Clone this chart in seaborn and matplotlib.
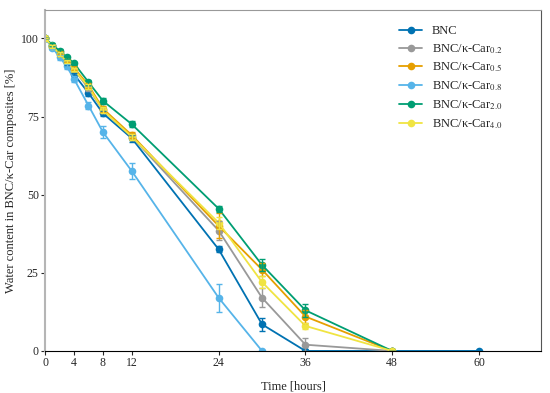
import numpy as np
import pandas as pd
import seaborn as sns
import matplotlib.pyplot as plt

# time points (hours)
hours = [0, 1, 2, 3, 4, 6, 8, 12, 24, 30, 36, 48, 60]

# water content [%] for each sample, nan = not measured
bnc = [100, 97.5, 95, 92, 88.5, 82.5, 76, 68, 32.5, 8.5, 0, 0, 0]
car02 = [100, 97.5, 95, 92.5, 90, 84, 77, 68.5, 38.5, 17, 2, 0, np.nan]
car05 = [100, 97.5, 95.5, 93, 90.5, 85, 77.5, 69, 40, 26, 11, 0, np.nan]
car08 = [100, 97, 94, 91, 87, 78.5, 70, 57.5, 17, 0, np.nan, np.nan, np.nan]
car20 = [100, 98, 96, 94, 92, 86, 80, 72.5, 45.5, 27.5, 13, 0, np.nan]
car40 = [100, 97.5, 95, 92.5, 90, 84.5, 77, 68.5, 41, 22, 8, 0, np.nan]

# standard deviations
bnc_err = [0, 0.5, 0.5, 0.5, 0.5, 0.8, 0.8, 1, 1, 2, 0.5, 0, 0]
car02_err = [0, 0.5, 0.5, 0.5, 0.5, 0.8, 1, 1, 3, 3, 2, 0, np.nan]
car05_err = [0, 0.5, 0.5, 0.5, 0.5, 0.8, 1, 1, 4, 2, 2, 0, np.nan]
car08_err = [0, 0.5, 0.8, 0.8, 1, 1, 2, 2.5, 4.5, 0, np.nan, np.nan, np.nan]
car20_err = [0, 0.5, 0.5, 0.5, 0.5, 0.8, 1, 1, 1, 2, 2, 0, np.nan]
car40_err = [0, 0.5, 0.5, 0.5, 0.5, 0.8, 1, 1, 2, 2, 1, 0, np.nan]

labels = ["BNC", r"BNC/κ-Car$_{0.2}$", r"BNC/κ-Car$_{0.5}$",
          r"BNC/κ-Car$_{0.8}$", r"BNC/κ-Car$_{2.0}$", r"BNC/κ-Car$_{4.0}$"]
colors = ["#0072B2", "#999999", "#E69F00", "#56B4E9", "#009E73", "#F0E442"]

values = [bnc, car02, car05, car08, car20, car40]
errors = [bnc_err, car02_err, car05_err, car08_err, car20_err, car40_err]

frames = []
for lab, v, e in zip(labels, values, errors):
    frames.append(pd.DataFrame({"time": hours, "water": v, "err": e, "sample": lab}))
df = pd.concat(frames, ignore_index=True).dropna()

sns.set_style("ticks")
plt.rcParams["font.family"] = ["Liberation Serif", "DejaVu Serif"]
plt.rcParams["mathtext.fontset"] = "stix"

fig, ax = plt.subplots(figsize=(5.5, 3.93), dpi=100)

sns.lineplot(data=df, x="time", y="water", hue="sample", hue_order=labels,
             palette=colors, marker="o", markersize=5.5, markeredgewidth=0,
             linewidth=1.3, ax=ax)

for lab, c in zip(labels, colors):
    sub = df[df["sample"] == lab]
    ax.errorbar(sub["time"], sub["water"], yerr=sub["err"], fmt="none",
                ecolor=c, elinewidth=1, capsize=2, capthick=1)

ax.set_xlim(0, 68.6)
ax.set_ylim(0, 109)
ax.set_xticks([0, 4, 8, 12, 24, 36, 48, 60])
ax.set_yticks([0, 25, 50, 75, 100])
ax.tick_params(labelsize=8.5, length=3, width=0.8, pad=1.5)
ax.set_xlabel("Time [hours]", fontsize=9, labelpad=8)
ax.set_ylabel("Water content in BNC/κ-Car composites [%]", fontsize=9, labelpad=3)

ax.spines["left"].set_color("#b5b5b5")
ax.spines["left"].set_linewidth(1.5)
ax.spines["top"].set_color("#999999")
ax.spines["right"].set_color("#555555")
ax.spines["bottom"].set_color("black")

leg = ax.legend(loc="upper right", frameon=False, fontsize=9,
                bbox_to_anchor=(0.945, 0.99), handlelength=1.8, labelspacing=0.4)

fig.subplots_adjust(left=0.082, right=0.984, top=0.974, bottom=0.107)
fig.savefig("out.png", dpi=100)
